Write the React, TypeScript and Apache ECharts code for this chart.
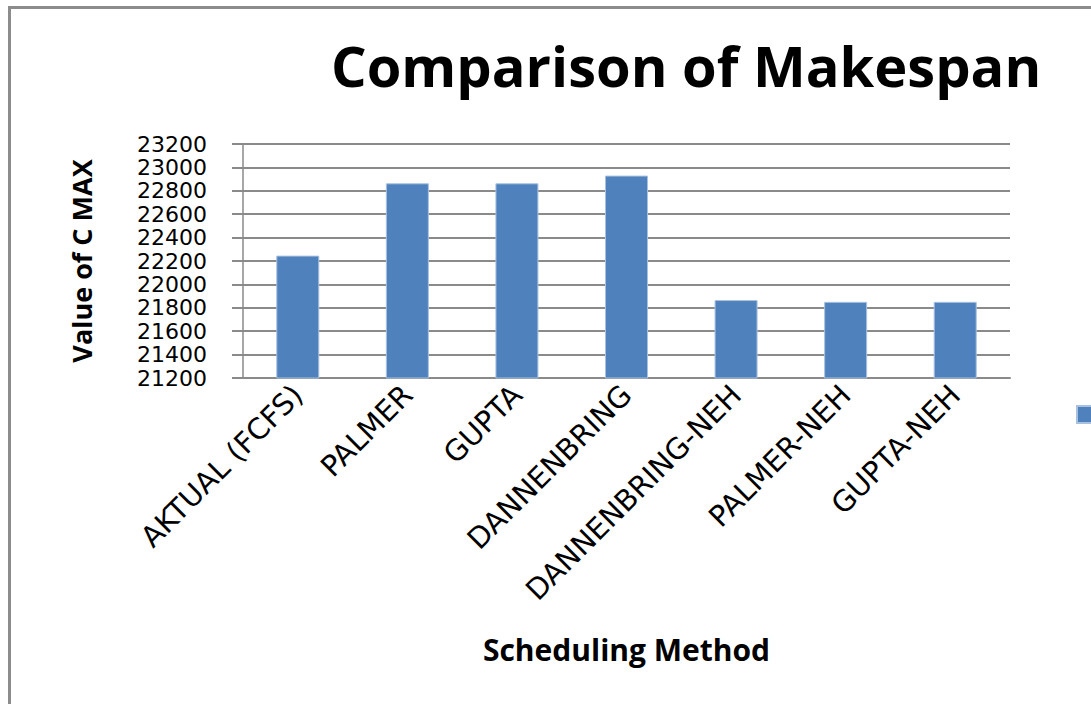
import React, { useEffect, useRef } from "react";
import * as echarts from "echarts";

const categories = [
  "AKTUAL (FCFS)",
  "PALMER",
  "GUPTA",
  "DANNENBRING",
  "DANNENBRING-NEH",
  "PALMER-NEH",
  "GUPTA-NEH",
];
const cmaxValues = [22246, 22864, 22864, 22930, 21866, 21851, 21851];
const yTicks = { min: 21200, max: 23200, interval: 200 };
const titleText = "Comparison of Makespan";
const yAxisName = "Value of C MAX";
const xAxisName = "Scheduling Method";
const seriesName = "Cmax";

export default function App() {
  const ref = useRef<HTMLDivElement>(null);
  useEffect(() => {
    if (!ref.current) return;
    const chart = echarts.init(ref.current, undefined, { renderer: "svg" });
    const gray = "#8a8a8a";
    chart.setOption({
      animation: false,
      backgroundColor: "#ffffff",
      title: {
        text: titleText,
        left: 326,
        top: 32,
        textStyle: {
          fontFamily: "Open Sans",
          fontWeight: "bold",
          fontSize: 56,
          color: "#000000",
        },
      },
      legend: {
        left: 1071,
        top: 400,
        itemWidth: 22,
        itemHeight: 17,
        icon: "rect",
        formatter: () => "",
        data: [seriesName],
      },
      grid: { left: 243, right: 81, top: 144, bottom: 326, containLabel: false },
      xAxis: {
        type: "category",
        data: categories,
        name: xAxisName,
        nameLocation: "middle",
        nameGap: 256,
        nameTextStyle: {
          fontFamily: "Open Sans",
          fontWeight: "bold",
          fontSize: 30,
          color: "#000",
        },
        axisLine: { show: true, lineStyle: { color: gray, width: 2 } },
        axisTick: { show: false },
        axisLabel: {
          rotate: 45,
          interval: 0,
          margin: 12,
          fontFamily: "DejaVu Sans",
          fontSize: 29,
          color: "#000",
        },
      },
      yAxis: {
        type: "value",
        min: yTicks.min,
        max: yTicks.max,
        interval: yTicks.interval,
        name: yAxisName,
        nameLocation: "middle",
        nameGap: 148,
        nameTextStyle: {
          fontFamily: "Open Sans",
          fontWeight: "bold",
          fontSize: 27,
          color: "#000",
        },
        axisLine: { show: true, lineStyle: { color: gray, width: 1.5 } },
        axisTick: { show: true, length: 11, lineStyle: { color: gray, width: 2 } },
        splitLine: { show: true, lineStyle: { color: gray, width: 2 } },
        axisLabel: {
          margin: 36,
          showMinLabel: true,
          showMaxLabel: true,
          formatter: (v: number) => String(v),
          fontFamily: "DejaVu Sans",
          fontSize: 22,
          lineHeight: 22,
          color: "#000",
        },
      },
      series: [
        {
          name: seriesName,
          type: "bar",
          data: cmaxValues,
          barWidth: 43,
          itemStyle: { color: "#4f81bd", borderColor: "#a9c1e0", borderWidth: 1 },
        },
      ],
      graphic: [
        {
          type: "rect",
          shape: { x: 9.5, y: 7.5, width: 1100, height: 710 },
          style: { fill: "none", stroke: "#8c8c8c", lineWidth: 3 },
          silent: true,
        },
      ],
    });
    return () => chart.dispose();
  }, []);
  return (
    <div
      ref={ref}
      style={{ position: "absolute", left: 0, top: 0, width: 1091, height: 704 }}
    />
  );
}
